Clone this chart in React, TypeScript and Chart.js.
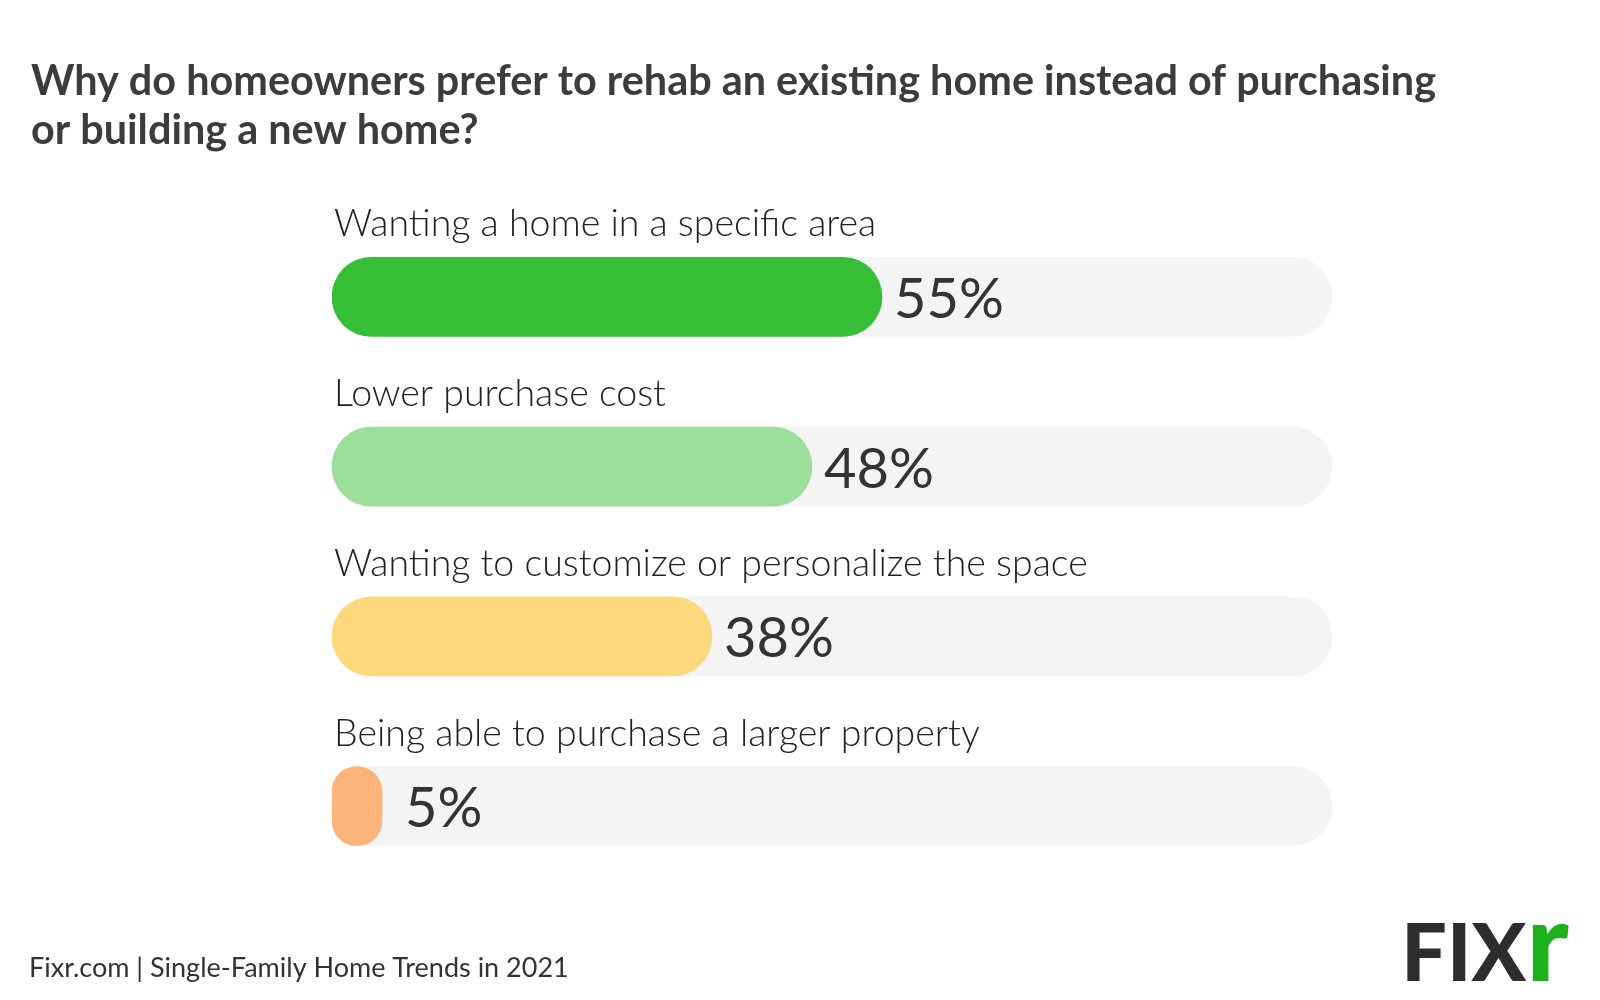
import React, { useEffect, useRef } from "react";
import { Chart, registerables } from "chart.js";

Chart.register(...registerables);

const titleLines = [
  "Why do homeowners prefer to rehab an existing home instead of purchasing",
  "or building a new home?",
];
const footerText = "Fixr.com | Single-Family Home Trends in 2021";
const categories = [
  "Wanting a home in a specific area",
  "Lower purchase cost",
  "Wanting to customize or personalize the space",
  "Being able to purchase a larger property",
];
const values = [55, 48, 38, 5];
const trackValues = [100, 100, 100, 100];
const barColors = ["#36be36", "#9bdf9b", "#fed87d", "#fdb47b"];
const trackColor = "#f4f4f4";

const overlayPlugin = {
  id: "overlay",
  afterDatasetsDraw(chart: any) {
    const ctx = chart.ctx as CanvasRenderingContext2D;
    const meta = chart.getDatasetMeta(0);
    ctx.save();
    meta.data.forEach((bar: any, i: number) => {
      const top = bar.y - bar.height / 2;
      ctx.font = "300 37.5px Lato";
      ctx.fillStyle = "#222222";
      ctx.textAlign = "left";
      ctx.textBaseline = "alphabetic";
      ctx.fillText(categories[i], Math.min(bar.x, bar.base) + 2, top - 21);
      ctx.font = "400 56px Lato";
      ctx.fillStyle = "#333333";
      const lx = Math.max(bar.x + 12, bar.base + 73);
      ctx.fillText(values[i] + "%", lx, bar.y + 21);
    });
    ctx.restore();
  },
  afterDraw(chart: any) {
    const ctx = chart.ctx as CanvasRenderingContext2D;
    ctx.save();
    ctx.textAlign = "left";
    ctx.textBaseline = "alphabetic";
    ctx.font = "700 41.4px Lato";
    ctx.fillStyle = "#3c3c3c";
    ctx.fillText(titleLines[0], 31, 95);
    ctx.fillText(titleLines[1], 31, 144);
    ctx.font = "400 27px Lato";
    ctx.fillStyle = "#333333";
    ctx.fillText(footerText, 29, 977);

    // logo
    ctx.font = "900 100px Lato";
    const m = ctx.measureText("FIX");
    const w = m.actualBoundingBoxLeft + m.actualBoundingBoxRight;
    const h = m.actualBoundingBoxAscent;
    ctx.save();
    ctx.translate(1407, 981);
    ctx.scale(120 / w, 58 / h);
    ctx.fillStyle = "#2d2d2d";
    ctx.fillText("FIX", m.actualBoundingBoxLeft, 0);
    ctx.restore();
    const mr = ctx.measureText("r");
    const wr = mr.actualBoundingBoxLeft + mr.actualBoundingBoxRight;
    const hr = mr.actualBoundingBoxAscent;
    ctx.save();
    ctx.translate(1532, 981);
    ctx.scale(37 / wr, 58 / hr);
    ctx.fillStyle = "#1db21d";
    ctx.fillText("r", mr.actualBoundingBoxLeft, 0);
    ctx.restore();
    ctx.restore();
  },
};

export default function App() {
  const ref = useRef<HTMLCanvasElement>(null);
  useEffect(() => {
    document.body.style.margin = "0";
    const canvas = ref.current!;
    const chart = new Chart(canvas, {
      type: "bar",
      data: {
        labels: categories,
        datasets: [
          {
            data: values,
            backgroundColor: barColors,
            borderRadius: 60,
            borderSkipped: false,
            barThickness: 79,
            order: 0,
          },
          {
            data: trackValues,
            backgroundColor: trackColor,
            borderRadius: 60,
            borderSkipped: false,
            barThickness: 79,
            order: 1,
          },
        ],
      },
      options: {
        indexAxis: "y",
        responsive: false,
        animation: false,
        devicePixelRatio: 1,
        layout: { padding: { left: 332, right: 268, top: 212, bottom: 109 } },
        datasets: { bar: { grouped: false } },
        scales: {
          x: { min: 0, max: 100, display: false },
          y: { display: false },
        },
        plugins: {
          legend: { display: false },
          tooltip: { enabled: false },
          title: { display: false },
        },
      },
      plugins: [overlayPlugin],
    } as any);
    return () => chart.destroy();
  }, []);
  return (
    <div style={{ width: 1600, height: 1000, background: "#ffffff" }}>
      <canvas ref={ref} width={1600} height={1000} style={{ display: "block" }} />
    </div>
  );
}
